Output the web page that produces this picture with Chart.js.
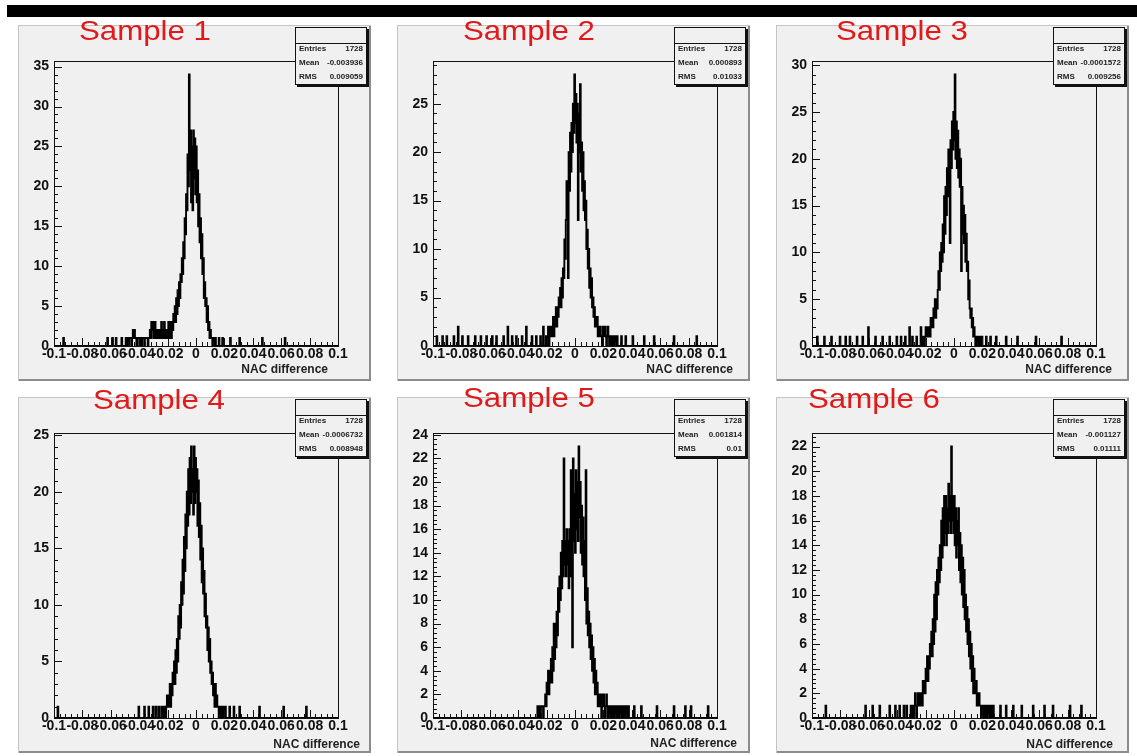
<!DOCTYPE html>
<html>
<head>
<meta charset="utf-8">
<script src="https://cdn.jsdelivr.net/npm/chart.js@4.4.1/dist/chart.umd.min.js"></script>
<style>
  html, body { margin: 0; padding: 0; background: #ffffff; }
  body { width: 1137px; height: 756px; position: relative; overflow: hidden; font-family: "Liberation Sans", Arial, sans-serif; }
  .topbar { position: absolute; left: 7px; top: 5px; width: 1130px; height: 12px; background: #000; }
  .panel { position: absolute; width: 353px; height: 356px; background: #f0f0f0;
           box-shadow: inset 1px 1px 0 #c4c4c4, inset -2px -2px 0 #8c8c8c; }
  .panel canvas { position: absolute; left: 0; top: 0; }
  .stats { position: absolute; left: 277px; top: 2px; width: 72px; height: 58px; background: #f0f0f0;
           border: 1px solid #111; box-shadow: 2px 2px 0 #111; box-sizing: border-box;
           font: bold 8px "Liberation Sans", Arial, sans-serif; color: #222; }
  .stats .head { height: 15px; border-bottom: 1px solid #111; }
  .stats .row { display: flex; justify-content: space-between; padding: 0 3px; height: 14px; line-height: 10px; }
  .title { position: absolute; color: #e01a1a; font: 28px "Liberation Sans", Arial, sans-serif; line-height: 28px;
           white-space: nowrap; transform: scaleX(1.115); transform-origin: 0 0; }
  .xtitle { position: absolute; font: bold 12px "Liberation Sans", Arial, sans-serif; line-height: 14px; color: #222; white-space: nowrap; }
</style>
</head>
<body>
<div class="topbar"></div>
<script>
// ---- histogram binning ----
const X_MIN = -0.1, X_MAX = 0.1, BIN_WIDTH = 0.0005;
const xTickValues = [-0.1, -0.08, -0.06, -0.04, -0.02, 0, 0.02, 0.04, 0.06, 0.08, 0.1];
const xAxisTitle = 'NAC difference';
const statLabels = ['Entries', 'Mean', 'RMS'];

// ---- Sample 1 ----
const sample1Title = 'Sample 1';
const sample1Stats = ['1728', '-0.003936', '0.009059'];
const sample1YTicks = [0, 5, 10, 15, 20, 25, 30, 35];
const sample1Start = -0.049;
const sample1Counts = [
  1,0,1,1,0,1,1,1,0,1,  2,1,2,1,1,0,1,1,1,0,  1,1,0,1,1,1,0,1,1,1,
  1,0,1,1,2,1,3,2,3,1,  2,3,1,2,1,2,1,1,2,1,  3,1,2,1,3,1,2,1,
  2,1,3,1,2,3,1,3,2,4,  3,5,3,6,4,7,5,8,6,9,  8,11,9,13,11,16,14,19,17,24,
  20,34,22,27,18,25,17,27,21,26,  19,25,18,22,15,19,13,16,11,14,
  9,11,6,8,5,6,3,5,2,3,  1,2,1,1,0,1
];
const sample1Sparse = [[-0.093,1],[-0.062,1],[-0.0585,1],[-0.056,1],[-0.052,1],
  [0.014,1],[0.0165,1],[0.019,1],[0.0245,1],[0.031,1],[0.047,1],[0.063,1]];

// ---- Sample 2 ----
const sample2Title = 'Sample 2';
const sample2Stats = ['1728', '0.000893', '0.01033'];
const sample2YTicks = [0, 5, 10, 15, 20, 25];
const sample2Start = -0.020;
const sample2Counts = [
  1,0,1,2,0,1,2,1,2,1,  3,1,3,2,4,2,4,3,5,4,  6,4,7,5,8,7,11,9,13,17,
  15,7,20,16,22,18,23,20,25,22,  28,23,26,21,25,13,24,20,27,18,
  21,16,20,14,17,13,15,10,12,8,  10,6,8,5,7,4,5,3,4,2,  3,2,3,1,2,1,2,1,1,0,
  2,1,1,2,1,0,1,2,1,0,  1,1,0,1,1,0,1,0,1,0,  1
];
const sample2Sparse = [[-0.097,1],[-0.093,1],[-0.090,1],[-0.085,1],[-0.082,2],[-0.079,1],
  [-0.075,1],[-0.070,1],[-0.066,1],[-0.062,1],[-0.058,1],[-0.055,1],[-0.050,1],[-0.047,2],
  [-0.044,1],[-0.041,1],[-0.037,1],[-0.034,2],[-0.030,1],[-0.027,1],[-0.024,1],[-0.022,2],
  [0.033,1],[0.036,1],[0.041,1],[0.049,1],[0.056,1],[0.070,1],[0.086,1]];

// ---- Sample 3 ----
const sample3Title = 'Sample 3';
const sample3Stats = ['1728', '-0.0001572', '0.009256'];
const sample3YTicks = [0, 5, 10, 15, 20, 25, 30];
const sample3Start = -0.020;
const sample3Counts = [
  1,2,1,1,2,1,2,1,3,2,  3,2,4,3,5,3,5,4,6,8,  6,10,8,11,9,13,10,16,12,17,
  14,19,16,21,18,11,22,19,24,21,  25,22,29,20,24,19,23,18,21,17,
  20,8,17,12,15,11,14,9,12,8,  9,5,7,4,3,4,2,3,1,2,  1,0,1,1,0,1,1,0,1,0,  1
];
const sample3Sparse = [[-0.096,1],[-0.091,1],[-0.086,1],[-0.080,1],[-0.076,1],[-0.073,1],
  [-0.068,1],[-0.064,1],[-0.060,2],[-0.055,1],[-0.050,1],[-0.045,1],[-0.040,1],[-0.037,1],
  [-0.034,1],[-0.031,2],[-0.029,1],[-0.026,1],[-0.023,2],[-0.0215,1],
  [0.023,1],[0.026,1],[0.030,1],[0.037,1],[0.045,1],[0.058,1],[0.076,1]];

// ---- Sample 4 ----
const sample4Title = 'Sample 4';
const sample4Stats = ['1728', '-0.0006732', '0.008948'];
const sample4YTicks = [0, 5, 10, 15, 20, 25];
const sample4Start = -0.024;
const sample4Counts = [
  1,0,1,0,1,1,0,1,2,1,  2,1,3,1,3,2,4,3,5,3,  6,4,7,5,9,7,10,8,12,10,
  14,11,16,13,18,15,20,17,22,18,  23,19,24,20,22,18,24,19,23,20,
  22,17,21,16,19,14,17,12,15,11,  13,9,11,8,9,6,8,5,7,4,
  5,3,4,2,3,1,3,1,2,1,  1,0,1,1,0,1,1,0,1,0,  1
];
const sample4Sparse = [[-0.097,1],[-0.040,1],[-0.036,1],[-0.033,1],[-0.030,1],[-0.028,1],
  [-0.026,1],[0.024,1],[0.027,1],[0.031,1],[0.045,1],[0.062,1],[0.078,1]];

// ---- Sample 5 ----
const sample5Title = 'Sample 5';
const sample5Stats = ['1728', '0.001814', '0.01'];
const sample5YTicks = [0, 2, 4, 6, 8, 10, 12, 14, 16, 18, 20, 22, 24];
const sample5Start = -0.026;
const sample5Counts = [
  1,0,1,1,0,1,1,1,0,1,  1,2,1,3,2,4,2,4,3,5,  3,6,4,8,5,8,6,9,7,11,
  9,12,10,14,11,15,12,22,13,15,  12,16,13,15,11,16,12,21,13,6,
  22,15,19,14,21,16,20,15,23,17,  20,14,18,13,17,12,15,10,21,8,
  11,7,9,6,8,5,7,4,6,3,  5,2,4,2,3,1,2,1,2,1,  0,2,1,2,1,0,1,2,1,0,
  1,1,0,1,1,0,1,1,0,1,  0,1,1,0,1,1,0,1,0,1,  1,0,1,0,1,0,1,0,  1
];
const sample5Sparse = [[0.042,1],[0.047,1],[0.058,1],[0.070,1],[0.078,1],[0.082,1],[0.094,1]];

// ---- Sample 6 ----
const sample6Title = 'Sample 6';
const sample6Stats = ['1728', '-0.001127', '0.01111'];
const sample6YTicks = [0, 2, 4, 6, 8, 10, 12, 14, 16, 18, 20, 22];
const sample6Start = -0.030;
const sample6Counts = [
  1,0,1,1,0,1,2,1,0,1,  2,1,1,2,1,2,1,3,2,3,  2,4,3,5,3,5,4,6,5,7,
  5,8,6,10,7,11,8,12,10,13,  11,14,12,16,13,17,14,18,15,18,
  14,17,15,19,16,18,15,22,16,18,  15,18,14,17,13,16,14,17,12,15,
  11,14,10,13,9,12,8,10,7,9,  6,8,5,7,4,6,3,5,2,4,  3,2,3,1,2,1,2,1,1,0,
  1,1,0,1,1,0,1,0,1,0,  1,0,1,0,1,0,1
];
const sample6Sparse = [[-0.090,1],[-0.062,1],[-0.057,1],[-0.052,1],[-0.045,1],[-0.041,1],
  [-0.038,1],[-0.035,1],[-0.033,1],[0.033,1],[0.037,1],[0.042,1],[0.048,1],[0.056,1],
  [0.064,1],[0.070,1],[0.082,1],[0.090,1]];

// ---- page layout of the six pads ----
const PANEL_W = 353, PANEL_H = 356;
const panels = [
  { left: 18,  top: 25,  title: sample1Title, titlePos: [79, 40],  xTitleRight: 328,  xTitleY: 369, stats: sample1Stats, yTicks: sample1YTicks, start: sample1Start, counts: sample1Counts, sparse: sample1Sparse },
  { left: 397, top: 25,  title: sample2Title, titlePos: [463, 40], xTitleRight: 733,  xTitleY: 369, stats: sample2Stats, yTicks: sample2YTicks, start: sample2Start, counts: sample2Counts, sparse: sample2Sparse },
  { left: 776, top: 25,  title: sample3Title, titlePos: [836, 40], xTitleRight: 1112, xTitleY: 369, stats: sample3Stats, yTicks: sample3YTicks, start: sample3Start, counts: sample3Counts, sparse: sample3Sparse },
  { left: 18,  top: 397, title: sample4Title, titlePos: [93, 409], xTitleRight: 360,  xTitleY: 744, stats: sample4Stats, yTicks: sample4YTicks, start: sample4Start, counts: sample4Counts, sparse: sample4Sparse },
  { left: 397, top: 397, title: sample5Title, titlePos: [463, 407], xTitleRight: 737, xTitleY: 743, stats: sample5Stats, yTicks: sample5YTicks, start: sample5Start, counts: sample5Counts, sparse: sample5Sparse },
  { left: 776, top: 397, title: sample6Title, titlePos: [808, 408], xTitleRight: 1113, xTitleY: 744, stats: sample6Stats, yTicks: sample6YTicks, start: sample6Start, counts: sample6Counts, sparse: sample6Sparse }
];

// frame inside each pad
const FRAME_LEFT = 36, FRAME_TOP = 36, FRAME_RIGHT = 320, FRAME_BOTTOM = 321;
const X_SUBDIV = 5, Y_SUBDIV = 5, MAJOR_LEN = 8, MINOR_LEN = 4;

function buildCounts(start, core, sparse) {
  const n = Math.round((X_MAX - X_MIN) / BIN_WIDTH);
  const counts = new Array(n).fill(0);
  const i0 = Math.round((start - X_MIN) / BIN_WIDTH);
  core.forEach((c, k) => { counts[i0 + k] = c; });
  sparse.forEach(([x, c]) => { counts[Math.round((x - X_MIN) / BIN_WIDTH)] = c; });
  return counts;
}

function toStepPoints(counts) {
  const pts = counts.map((c, i) => ({ x: X_MIN + i * BIN_WIDTH, y: c }));
  pts.push({ x: X_MAX, y: counts[counts.length - 1] });
  return pts;
}

const fmtX = v => String(Math.round(v * 100) / 100);

// frame box and inward tick marks
const framePlugin = {
  id: 'padFrame',
  afterDatasetsDraw(chart) {
    const { ctx, chartArea: a, scales: { x, y } } = chart;
    ctx.save();
    ctx.strokeStyle = '#111';
    ctx.lineWidth = 1;
    ctx.strokeRect(Math.round(a.left) + 0.5, Math.round(a.top) + 0.5,
                   Math.round(a.right - a.left), Math.round(a.bottom - a.top));
    ctx.beginPath();
    const xt = x.ticks.map(t => t.value);
    xt.forEach((v, k) => {
      const px = Math.round(x.getPixelForValue(v)) + 0.5;
      ctx.moveTo(px, a.bottom); ctx.lineTo(px, a.bottom - MAJOR_LEN);
      if (k < xt.length - 1) {
        const step = (xt[k + 1] - v) / X_SUBDIV;
        for (let m = 1; m < X_SUBDIV; m++) {
          const p = Math.round(x.getPixelForValue(v + m * step)) + 0.5;
          ctx.moveTo(p, a.bottom); ctx.lineTo(p, a.bottom - MINOR_LEN);
        }
      }
    });
    const yt = y.ticks.map(t => t.value);
    const ystep = (yt[1] - yt[0]) / Y_SUBDIV;
    yt.forEach(v => {
      const py = Math.round(y.getPixelForValue(v)) + 0.5;
      ctx.moveTo(a.left, py); ctx.lineTo(a.left + MAJOR_LEN, py);
      for (let m = 1; m < Y_SUBDIV; m++) {
        const mv = v + m * ystep;
        if (mv > y.max) break;
        const p = Math.round(y.getPixelForValue(mv)) + 0.5;
        ctx.moveTo(a.left, p); ctx.lineTo(a.left + MINOR_LEN, p);
      }
    });
    ctx.stroke();
    ctx.restore();
  }
};

const tickFont = { family: '"Liberation Sans", Arial, sans-serif', size: 14, weight: 'bold' };

panels.forEach(p => {
  const pad = document.createElement('div');
  pad.className = 'panel';
  pad.style.left = p.left + 'px';
  pad.style.top = p.top + 'px';
  const canvas = document.createElement('canvas');
  canvas.width = PANEL_W; canvas.height = PANEL_H;
  canvas.style.width = PANEL_W + 'px'; canvas.style.height = PANEL_H + 'px';
  pad.appendChild(canvas);

  const box = document.createElement('div');
  box.className = 'stats';
  box.innerHTML = '<div class="head"></div>' + statLabels.map((l, i) =>
    '<div class="row"><span>' + l + '</span><span>' + p.stats[i] + '</span></div>').join('');
  pad.appendChild(box);
  document.body.appendChild(pad);

  const title = document.createElement('div');
  title.className = 'title';
  title.textContent = p.title;
  title.style.left = p.titlePos[0] + 'px';
  title.style.top = (p.titlePos[1] - 23) + 'px';
  document.body.appendChild(title);

  const xt = document.createElement('div');
  xt.className = 'xtitle';
  xt.textContent = xAxisTitle;
  xt.style.right = (1137 - p.xTitleRight) + 'px';
  xt.style.top = (p.xTitleY - 7) + 'px';
  document.body.appendChild(xt);

  const counts = buildCounts(p.start, p.counts, p.sparse);
  const yMax = Math.max(...counts) * 1.05;

  new Chart(canvas, {
    type: 'line',
    data: {
      datasets: [{
        data: toStepPoints(counts),
        stepped: 'after',
        borderColor: '#000',
        borderWidth: 1.9,
        pointRadius: 0,
        fill: false
      }]
    },
    options: {
      responsive: false,
      animation: false,
      events: [],
      layout: { padding: { left: 0, top: FRAME_TOP, right: PANEL_W - FRAME_RIGHT, bottom: 0 } },
      plugins: { legend: { display: false }, tooltip: { enabled: false } },
      scales: {
        x: {
          type: 'linear', min: X_MIN, max: X_MAX,
          grid: { display: false, drawTicks: false }, border: { display: false },
          afterBuildTicks: s => { s.ticks = xTickValues.map(v => ({ value: v })); },
          afterFit: s => { s.height = PANEL_H - FRAME_BOTTOM; s.paddingLeft = 0; s.paddingRight = 0; },
          ticks: { autoSkip: false, maxRotation: 0, minRotation: 0, padding: 0, color: '#111', font: tickFont, callback: v => fmtX(v) }
        },
        y: {
          type: 'linear', min: 0, max: yMax,
          grid: { display: false, drawTicks: false }, border: { display: false },
          afterBuildTicks: s => { s.ticks = p.yTicks.map(v => ({ value: v })); },
          afterFit: s => { s.width = FRAME_LEFT; s.paddingTop = 0; s.paddingBottom = 0; },
          ticks: { padding: 5, color: '#111', font: tickFont, callback: v => String(v) }
        }
      }
    },
    plugins: [framePlugin]
  });
});
</script>
</body>
</html>
